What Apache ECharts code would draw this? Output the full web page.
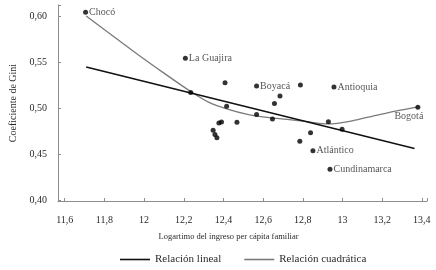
<!DOCTYPE html>
<html>
<head>
<meta charset="utf-8">
<script src="https://cdn.jsdelivr.net/npm/echarts@6/dist/echarts.min.js"></script>
<style>
    html, body { margin: 0; padding: 0; background: #fff; }
    #chart { width: 436px; height: 270px; }
</style>
</head>
<body>
<div id="chart"></div>
<script>
// departamentos: log del ingreso per cápita vs Gini
const deptNames = ['Chocó', 'La Guajira', '', '', 'Boyacá', '', 'Antioquia', '', '', '', '', '', 'Bogotá',
    '', '', '', '', '', '', '', '', '', '', 'Atlántico', 'Cundinamarca'];
const logIncome = [11.705, 12.208, 12.235, 12.408, 12.567, 12.788, 12.957, 12.685, 12.657, 12.416, 12.567, 12.647, 13.38,
    12.929, 12.998, 12.468, 12.377, 12.39, 12.348, 12.357, 12.367, 12.785, 12.839, 12.851, 12.937];
const gini = [0.604, 0.554, 0.517, 0.5275, 0.524, 0.525, 0.523, 0.513, 0.505, 0.502, 0.493, 0.488, 0.501,
    0.485, 0.477, 0.4845, 0.4837, 0.4848, 0.476, 0.4714, 0.4677, 0.4638, 0.4732, 0.4536, 0.4334];

const linearX = [11.708, 13.363];
const linearY = [0.5446, 0.456];

const quadX = [11.708, 11.97, 12.10, 12.237, 12.322, 12.421, 12.521, 12.62, 12.72, 12.811, 12.927, 13.043, 13.176, 13.292, 13.383];
const quadY = [0.600, 0.558, 0.538, 0.5177, 0.5068, 0.4989, 0.4932, 0.4899, 0.4877, 0.4855, 0.4828, 0.4859, 0.4924, 0.4978, 0.5014];

const xTicks = [11.6, 11.8, 12, 12.2, 12.4, 12.6, 12.8, 13, 13.2, 13.4];
const yTicks = [0.40, 0.45, 0.50, 0.55, 0.60];

const serif = '"Liberation Serif", "DejaVu Serif", serif';
const axisGray = '#8c8c8c';
const textColor = '#2a2a2a';

const pairs = (xs, ys) => xs.map((x, i) => [x, ys[i]]);

const chart = echarts.init(document.getElementById('chart'), null, { renderer: 'canvas' });

chart.setOption({
    animation: false,
    textStyle: { fontFamily: serif, color: textColor },
    grid: { left: 53, right: 9, top: 5, bottom: 69 },
    legend: {
        left: 115,
        top: 249,
        icon: 'rect',
        itemWidth: 30,
        itemHeight: 1.6,
        itemGap: 23,
        data: ['Relación lineal', 'Relación cuadrática'],
        textStyle: { fontFamily: serif, fontSize: 11, color: textColor },
    },
    xAxis: {
        type: 'value',
        min: 11.566,
        max: 13.426,
        name: 'Logartimo del ingreso per cápita familiar',
        nameLocation: 'middle',
        nameGap: 31,
        nameTextStyle: { fontFamily: serif, fontSize: 8.5, color: textColor, padding: [0, 28, 0, 0] },
        axisLine: { lineStyle: { color: axisGray, width: 1 } },
        axisTick: { inside: true, length: 3, customValues: xTicks.concat([13.426]), lineStyle: { color: axisGray } },
        axisLabel: {
            customValues: xTicks,
            margin: 14,
            fontFamily: serif,
            fontSize: 10,
            color: textColor,
            formatter: (v) => String(Math.round(v * 10) / 10).replace('.', ','),
        },
        splitLine: { show: false },
    },
    yAxis: {
        type: 'value',
        min: 0.399,
        max: 0.612,
        name: 'Coeficiente de Gini',
        nameLocation: 'middle',
        nameGap: 40,
        nameTextStyle: { fontFamily: serif, fontSize: 10, color: textColor },
        axisLine: { show: true, lineStyle: { color: axisGray, width: 1 } },
        axisTick: { show: true, inside: true, length: 3, customValues: yTicks.concat([0.612]), lineStyle: { color: axisGray } },
        axisLabel: {
            customValues: yTicks,
            margin: 11,
            fontFamily: serif,
            fontSize: 10,
            color: textColor,
            formatter: (v) => v.toFixed(2).replace('.', ','),
        },
        splitLine: { show: false },
    },
    series: [
        {
            name: 'Relación lineal',
            type: 'line',
            data: pairs(linearX, linearY),
            symbol: 'none',
            lineStyle: { color: '#111', width: 1.5 },
            itemStyle: { color: '#111' },
            z: 3,
        },
        {
            name: 'Relación cuadrática',
            type: 'line',
            data: pairs(quadX, quadY),
            smooth: 0.3,
            symbol: 'none',
            lineStyle: { color: '#7a7a7a', width: 1.3 },
            itemStyle: { color: '#7a7a7a' },
            z: 2,
        },
        {
            name: 'Departamentos',
            type: 'scatter',
            symbolSize: 5,
            itemStyle: { color: '#000' },
            z: 4,
            data: logIncome.map((x, i) => {
                const point = { value: [x, gini[i]], name: deptNames[i] };
                if (deptNames[i] === 'Bogotá') {
                    point.label = { position: 'bottom', offset: [-9, 0], distance: 2 };
                }
                return point;
            }),
            label: {
                show: true,
                position: 'right',
                distance: 1,
                fontFamily: serif,
                fontSize: 10,
                color: textColor,
                formatter: (p) => p.name,
            },
        },
    ],
});
</script>
</body>
</html>
